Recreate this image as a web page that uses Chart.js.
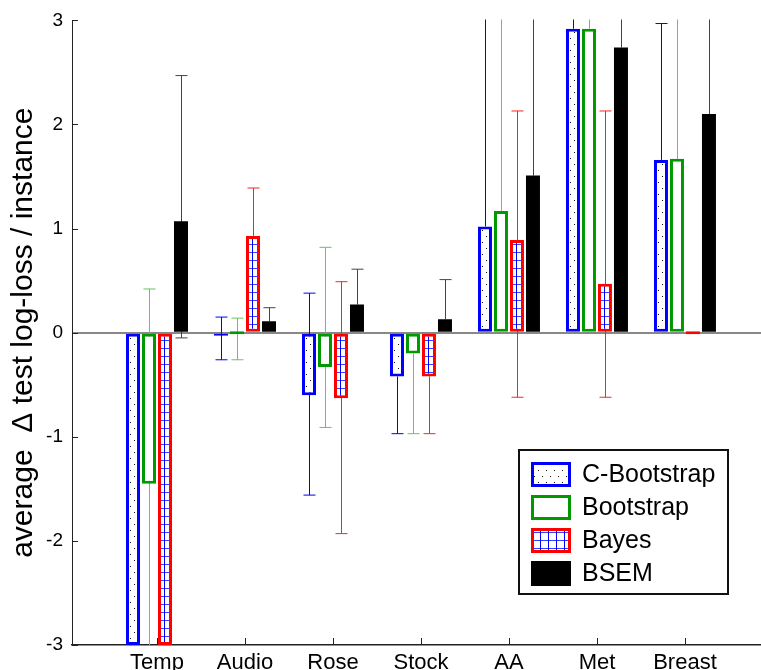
<!DOCTYPE html>
<html>
<head>
<meta charset="utf-8">
<script src="https://cdn.jsdelivr.net/npm/chart.js@4.4.1/dist/chart.umd.min.js"></script>
<style>
  html, body { margin: 0; padding: 0; background: #fff; overflow: hidden; }
  #wrap { width: 761px; height: 670px; overflow: hidden; }
</style>
</head>
<body>
<div id="wrap"><canvas id="grafica" width="761" height="700"></canvas></div>
<script>
const categorias = ["Temp", "Audio", "Rose", "Stock", "AA", "Met", "Breast"];
const nombres = ["C-Bootstrap", "Bootstrap", "Bayes", "BSEM"];
const yTicks = [-3, -2, -1, 0, 1, 2, 3];

// medias
const cboot = [-3, -0.02, -0.60, -0.42, 1.02, 2.92, 1.66];
const boot  = [-1.45, 0.0, -0.33, -0.20, 1.17, 2.92, 1.67];
const bayes = [-3, 0.93, -0.63, -0.42, 0.89, 0.47, 0];
const bsem  = [1.07, 0.11, 0.27, 0.13, 1.51, 2.74, 2.10];

// extremos de las barras de error (null = no se ve)
const cbootHi = [null, 0.15, 0.38, null, 3.5, 3.5, 2.97];
const cbootLo = [null, -0.26, -1.56, -0.97, null, null, null];
const bootHi  = [0.42, 0.14, 0.82, null, 3.5, 3.5, 3.5];
const bootLo  = [-3.5, -0.26, -0.91, -0.97, null, null, null];
const bayesHi = [null, 1.39, 0.49, null, 2.13, 2.13, null];
const bayesLo = [null, null, -1.93, -0.97, -0.62, -0.62, null];
const bsemHi  = [2.47, 0.24, 0.61, 0.51, 3.5, 3.5, 3.5];
const bsemLo  = [-0.05, null, null, null, null, null, null];

const FUENTE = "'Liberation Sans', Arial, Helvetica, sans-serif";
Chart.defaults.font.family = FUENTE;

function puntos(vals) {
  return vals.map((v, i) => ({ x: i + 1, y: v }));
}

// relleno punteado
function patronPuntos() {
  const c = document.createElement("canvas");
  c.width = 8; c.height = 12;
  const g = c.getContext("2d");
  g.fillStyle = "#fff"; g.fillRect(0, 0, 8, 12);
  g.fillStyle = "#111";
  g.fillRect(2, 2, 1, 1);
  g.fillRect(6, 8, 1, 1);
  return g.createPattern(c, "repeat");
}

// rejilla azul
function patronRejilla() {
  const c = document.createElement("canvas");
  c.width = 8; c.height = 8;
  const g = c.getContext("2d");
  g.fillStyle = "#fff"; g.fillRect(0, 0, 8, 8);
  g.fillStyle = "#3344ff";
  g.fillRect(0, 4, 8, 1);
  g.fillStyle = "#0000ff";
  g.fillRect(4, 0, 1, 8);
  return g.createPattern(c, "repeat");
}

const barrasError = {
  id: "barrasError",
  beforeDatasetsDraw(chart) {
    const { ctx, chartArea: a, scales: { y } } = chart;
    ctx.save();
    ctx.beginPath();
    ctx.rect(a.left, a.top - 1, a.right - a.left, a.bottom - a.top + 2);
    ctx.clip();
    chart.data.datasets.forEach((ds, i) => {
      const meta = chart.getDatasetMeta(i);
      meta.data.forEach((bar, j) => {
        const v = ds.data[j].y;
        const hi = ds.errHi[j], lo = ds.errLo[j];
        if (hi == null && lo == null) return;
        const yHi = y.getPixelForValue(hi == null ? v : hi);
        const yLo = y.getPixelForValue(lo == null ? v : lo);
        const px = Math.round(bar.x) + 0.5;
        ctx.strokeStyle = ds.errColor;
        ctx.lineWidth = 1;
        ctx.beginPath();
        ctx.moveTo(px, yHi); ctx.lineTo(px, yLo);
        if (hi != null && hi <= 3) { ctx.moveTo(px - 6, yHi); ctx.lineTo(px + 6, yHi); }
        if (lo != null && lo >= -3) { ctx.moveTo(px - 6, yLo); ctx.lineTo(px + 6, yLo); }
        ctx.stroke();
      });
    });
    ctx.restore();
  }
};

// marcas hacia dentro
const marcas = {
  id: "marcas",
  afterDraw(chart) {
    const { ctx, chartArea: a, scales: { x, y } } = chart;
    ctx.save();
    ctx.strokeStyle = "#222";
    ctx.lineWidth = 1;
    ctx.beginPath();
    yTicks.forEach(v => {
      const py = Math.round(y.getPixelForValue(v)) + 0.5;
      ctx.moveTo(a.left, py); ctx.lineTo(a.left + 6, py);
    });
    categorias.forEach((c, i) => {
      const px = Math.round(x.getPixelForValue(i + 1)) + 0.5;
      ctx.moveTo(px, a.bottom); ctx.lineTo(px, a.bottom - 7);
    });
    ctx.stroke();
    ctx.restore();
  }
};

const leyenda = {
  id: "leyenda",
  afterDraw(chart) {
    const ctx = chart.ctx;
    ctx.save();
    ctx.fillStyle = "#fff";
    ctx.fillRect(519, 450, 209, 144);
    ctx.strokeStyle = "#111";
    ctx.lineWidth = 2;
    ctx.strokeRect(519, 450, 209, 144);
    const filas = [462, 495, 528, 561];
    chart.data.datasets.forEach((ds, i) => {
      const y0 = filas[i];
      ctx.fillStyle = ds.backgroundColor;
      ctx.fillRect(531, y0, 40, 25);
      if (ds.borderWidth > 0) {
        ctx.strokeStyle = ds.borderColor;
        ctx.lineWidth = 3;
        ctx.strokeRect(532.5, y0 + 1.5, 37, 22);
      }
      ctx.fillStyle = "#000";
      ctx.font = "25px " + FUENTE;
      ctx.textBaseline = "middle";
      ctx.fillText(ds.label, 582, y0 + 13);
    });
    ctx.restore();
  }
};

const ctx = document.getElementById("grafica").getContext("2d");
const chart = new Chart(ctx, {
  type: "bar",
  data: {
    datasets: [
      { label: nombres[0], data: puntos(cboot), backgroundColor: patronPuntos(), borderColor: "#0000ff", borderWidth: 3,
        errHi: cbootHi, errLo: cbootLo, errColor: "#0000ff" },
      { label: nombres[1], data: puntos(boot), backgroundColor: "#ffffff", borderColor: "#009900", borderWidth: 3,
        errHi: bootHi, errLo: bootLo, errColor: "#66c466" },
      { label: nombres[2], data: puntos(bayes), backgroundColor: patronRejilla(), borderColor: "#ff0000", borderWidth: 3,
        errHi: bayesHi, errLo: bayesLo, errColor: "#ff2222" },
      { label: nombres[3], data: puntos(bsem), backgroundColor: "#000000", borderColor: "#000000", borderWidth: 0,
        errHi: bsemHi, errLo: bsemLo, errColor: "#444444" }
    ]
  },
  options: {
    responsive: false,
    animation: false,
    devicePixelRatio: 1,
    layout: { padding: { top: 15, right: 0, left: 0, bottom: 0 } },
    datasets: {
      bar: { barPercentage: 0.875, categoryPercentage: 0.727, borderSkipped: false, minBarLength: 3 }
    },
    plugins: {
      legend: { display: false },
      tooltip: { enabled: false }
    },
    scales: {
      x: {
        type: "linear",
        offset: false,
        min: 0.034,
        max: 7.864,
        grid: { display: false, drawTicks: false },
        border: { display: true, color: "#222", width: 1.5 },
        ticks: {
          stepSize: 1,
          autoSkip: false,
          includeBounds: false,
          maxRotation: 0,
          padding: 5,
          color: "#000",
          font: { size: 22 },
          callback: v => categorias[v - 1] || ""
        },
        afterFit: s => { s.height = 55; }
      },
      y: {
        min: -3,
        max: 3,
        grid: {
          drawTicks: false,
          lineWidth: 2,
          color: c => (c.tick && c.tick.value === 0) ? "#888888" : "rgba(0,0,0,0)"
        },
        border: { display: true, color: "#222", width: 1 },
        ticks: {
          stepSize: 1,
          padding: 9,
          color: "#000",
          font: { size: 19 },
          callback: v => yTicks.includes(v) ? String(v) : ""
        },
        title: {
          display: true,
          text: "average  \u0394 test log-loss / instance",
          color: "#000",
          font: { size: 30 },
          padding: { top: 6, bottom: 0 }
        },
        afterFit: s => { s.width = 72; }
      }
    }
  },
  plugins: [barrasError, marcas, leyenda]
});
</script>
</body>
</html>
